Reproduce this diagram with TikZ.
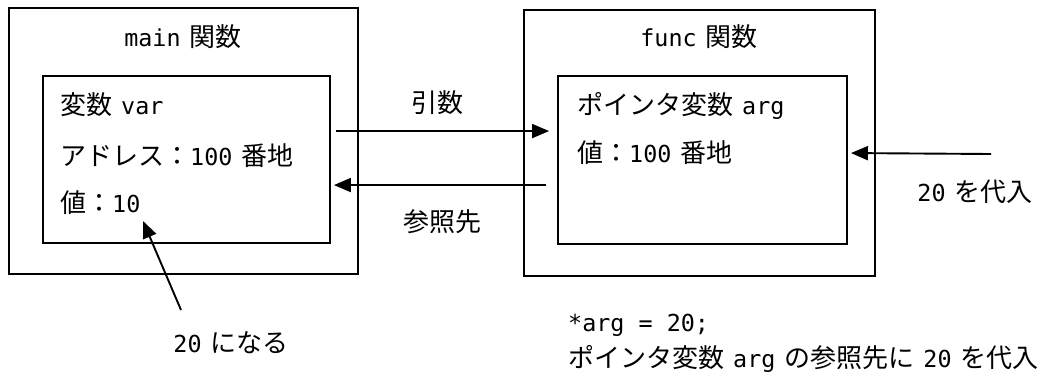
\documentclass[tikz,border=0pt]{standalone}
\usepackage{fontspec}
\setmainfont{Noto Sans CJK JP}
\newfontfamily\mono[Scale=0.9]{DejaVu Sans Mono}
\newcommand{\gp}{\hspace{9pt}}
\usetikzlibrary{arrows.meta}
\tikzset{
  box/.style={draw=black, line width=1.9pt, inner sep=0pt},
  txt/.style={inner sep=0pt, anchor=base west, font=\fontsize{26pt}{30pt}\selectfont},
  ctxt/.style={inner sep=0pt, anchor=base, font=\fontsize{26pt}{30pt}\selectfont},
  arr/.style={line width=1.9pt, -{Triangle[length=17pt,width=14pt]}}
}
\begin{document}
\begin{tikzpicture}[x=1pt,y=-1pt]
\useasboundingbox (0,0) rectangle (1041,381);
% boxes
\node[box, minimum width=349pt, minimum height=266pt] (mainouter) at (183.5,141) {};
\node[box, minimum width=287pt, minimum height=167pt] (maininner) at (186.5,159.5) {};
\node[box, minimum width=351pt, minimum height=266pt] (funcouter) at (699.5,143) {};
\node[box, minimum width=289pt, minimum height=168pt] (funcinner) at (702.5,160) {};
% titles
\node[ctxt] (maintitle) at (183,46) {{\mono main}\gp 関数};
\node[ctxt] (functitle) at (699,46) {{\mono func}\gp 関数};
% main inner texts
\node[txt] (mvar) at (60,114) {変数\gp{\mono var}};
\node[txt] (maddr) at (60,165) {アドレス：{\mono 100}\gp 番地};
\node[txt] (mval) at (60,212) {値：{\mono 10}};
% func inner texts
\node[txt] (fvar) at (577,114) {ポインタ変数\gp{\mono arg}};
\node[txt] (fval) at (577,162) {値：{\mono 100}\gp 番地};
% arrow labels
\node[ctxt] (lblarg) at (437,112) {引数};
\node[ctxt] (lblref) at (442,231) {参照先};
\node[ctxt] (lbl20a) at (975,201) {{\mono 20}\gp を代入};
\node[ctxt] (lbl20b) at (231,352) {{\mono 20}\gp になる};
\node[txt] (code) at (568,331) {{\mono *arg = 20;}};
\node[txt] (desc) at (568,367) {ポインタ変数\gp{\mono arg}\gp の参照先に\gp{\mono 20}\gp を代入};
% connectors
\draw[arr] ([xshift=5pt,yshift=-56pt]maininner.north east) -- ([xshift=-8pt,yshift=-56pt]funcinner.north west);
\draw[arr] ([xshift=-11pt,yshift=-110pt]funcinner.north west) -- ([xshift=3pt,yshift=-110pt]maininner.north east);
\coordinate (src20) at (991,154);
\draw[arr] (src20) -- ([xshift=3pt,yshift=-78pt]funcinner.north east);
\coordinate (tail20) at (181,310);
\coordinate (tip20) at (143,221);
\draw[arr] (tail20) -- (tip20);
\end{tikzpicture}
\end{document}
